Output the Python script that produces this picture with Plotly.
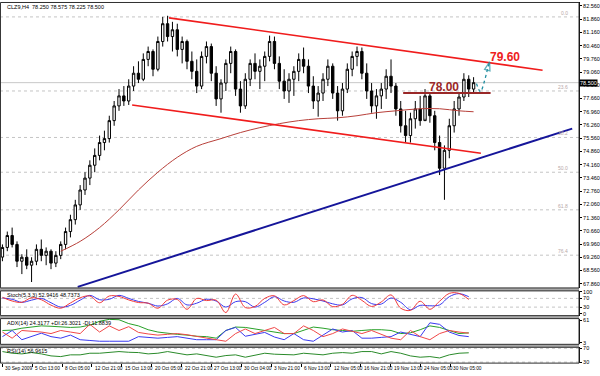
import plotly.graph_objects as go

# ---------------- data ----------------
title_text = "CLZ9,H4  78.250 78.575 78.225 78.500"
bar_index = list(range(98))
opens = [69.27, 69.78, 70.41, 69.94, 69.05, 69.26, 68.84, 69.05, 69.68, 69.36,
         69.58, 68.95, 69.36, 69.94, 70.62, 71.25, 72.03, 72.82, 73.45, 74.13,
         74.65, 75.33, 75.54, 76.49, 77.27, 77.80, 77.53, 78.32, 79.00, 78.68,
         79.73, 80.15, 79.21, 80.68, 81.62, 80.94, 81.30, 80.26, 80.68, 79.63,
         79.10, 78.32, 79.89, 80.41, 79.00, 77.64, 78.48, 79.52, 80.15, 78.16,
         77.27, 78.68, 79.52, 79.10, 79.37, 79.89, 80.68, 79.52, 78.58, 78.06,
         78.68, 79.10, 79.73, 79.37, 78.32, 77.53, 77.95, 78.68, 79.37, 77.95,
         77.01, 78.16, 79.21, 79.89, 80.15, 79.00, 78.06, 77.27, 77.80, 78.16,
         78.84, 78.32, 77.11, 76.22, 75.70, 76.59, 77.11, 76.49, 77.80, 76.75,
         75.33, 73.97, 74.92, 76.22, 77.11, 77.74, 78.68, 78.16]
highs = [69.94, 70.62, 70.83, 70.10, 69.42, 69.68, 69.26, 69.94, 70.20, 69.78,
         69.68, 69.58, 70.10, 70.83, 71.51, 72.30, 73.08, 73.76, 74.39, 75.02,
         75.70, 75.96, 76.75, 77.53, 78.16, 78.32, 78.68, 79.37, 79.63, 80.05,
         80.41, 80.26, 80.94, 81.98, 82.04, 81.72, 81.62, 80.94, 80.78, 80.15,
         79.73, 80.15, 80.68, 80.57, 79.37, 78.68, 79.73, 80.41, 80.26, 78.58,
         79.00, 79.73, 80.05, 79.73, 80.15, 80.99, 80.94, 79.89, 79.21, 79.00,
         79.37, 80.05, 80.36, 79.73, 78.84, 78.32, 79.00, 79.73, 79.52, 78.32,
         78.48, 79.52, 80.15, 80.41, 80.36, 79.52, 78.48, 78.16, 78.48, 79.21,
         79.73, 78.48, 77.53, 77.01, 76.91, 77.53, 77.80, 78.16, 77.95, 77.01,
         75.70, 75.18, 76.59, 77.53, 77.90, 79.00, 78.89, 78.79]
lows = [69.05, 69.58, 69.78, 68.74, 68.37, 68.63, 67.95, 68.84, 69.05, 68.84,
        68.63, 68.74, 69.16, 69.68, 70.31, 70.99, 71.77, 72.56, 73.08, 73.76,
        74.39, 74.92, 75.33, 76.22, 77.01, 77.27, 77.32, 78.06, 78.48, 78.58,
        79.37, 78.84, 79.10, 80.41, 80.68, 80.15, 79.89, 79.52, 79.21, 78.68,
        77.95, 78.16, 79.52, 78.58, 77.27, 76.91, 78.06, 79.00, 77.80, 76.91,
        77.11, 78.32, 78.68, 78.16, 78.58, 79.63, 79.21, 78.16, 77.64, 77.43,
        77.80, 78.58, 79.00, 77.95, 77.11, 76.70, 77.53, 78.32, 77.64, 76.49,
        76.75, 77.95, 78.84, 79.37, 78.68, 77.64, 76.91, 76.59, 77.11, 77.64,
        77.95, 76.75, 75.86, 75.33, 75.33, 76.07, 76.22, 76.59, 76.38, 74.92,
        73.61, 72.30, 74.50, 75.86, 76.75, 77.53, 77.74, 77.95]
closes = [69.78, 70.41, 69.94, 69.05, 69.26, 68.84, 69.05, 69.68, 69.36, 69.58,
          68.95, 69.36, 69.94, 70.62, 71.25, 72.03, 72.82, 73.45, 74.13, 74.65,
          75.33, 75.54, 76.49, 77.27, 77.80, 77.53, 78.32, 79.00, 78.68, 79.73,
          80.15, 79.21, 80.68, 81.62, 80.94, 81.30, 80.26, 80.68, 79.63, 79.10,
          78.32, 79.89, 80.41, 79.00, 77.64, 78.48, 79.52, 80.15, 78.16, 77.27,
          78.68, 79.52, 79.10, 79.37, 79.89, 80.68, 79.52, 78.58, 78.06, 78.68,
          79.10, 79.73, 79.37, 78.32, 77.53, 77.95, 78.68, 79.37, 77.95, 77.01,
          78.16, 79.21, 79.89, 80.15, 79.00, 78.06, 77.27, 77.80, 78.16, 78.84,
          78.32, 77.11, 76.22, 75.70, 76.59, 77.11, 76.49, 77.80, 76.75, 75.33,
          73.97, 74.92, 76.22, 77.11, 77.74, 78.68, 78.16, 78.50]
last_price = 78.50

ma_x = [12, 16, 20, 24, 28, 32, 36, 40, 45, 49, 53, 57, 61, 65, 69, 73, 77, 81, 86, 90, 94, 97]
ma_y = [69.58, 70.10, 70.83, 71.77, 72.82, 73.76, 74.55, 75.13, 75.54, 75.86, 76.12,
        76.33, 76.49, 76.59, 76.64, 76.75, 76.91, 77.01, 77.12, 77.12, 77.01, 76.96]

upper_x = [34.3, 111.2]
upper_y = [81.93, 79.16]
lower_x = [26.7, 98.5]
lower_y = [77.32, 74.76]
trend_x = [15.5, 117.3]
trend_y = [67.69, 76.07]
level78_x = [82.5, 100.5]
level78_y = [77.95, 77.95]
arrow_x = [97.6, 98.4, 99.2, 99.8, 100.3]
arrow_y = [78.45, 78.02, 78.55, 79.15, 79.60]

fib_prices = [81.98, 78.06, 75.60, 73.76, 71.77, 69.37]
fib_labels = ["0.0", "23.6", "38.2", "50.0", "61.8", "76.4"]

price_ticks = [82.56, 81.86, 81.16, 80.46, 79.76, 79.06, 78.36, 77.66, 76.96, 76.26,
               75.56, 74.86, 74.16, 73.46, 72.76, 72.06, 71.36, 70.66, 69.96, 69.26,
               68.56, 67.86]

date_pos = [0, 6.1, 12.3, 18.4, 24.6, 30.7, 36.9, 43.0, 49.2, 55.3, 61.5, 67.6,
            73.8, 79.9, 86.1, 92.2]
date_labels = ["30 Sep 2009", "5 Oct 13:00", "8 Oct 05:00", "12 Oct 21:00",
               "15 Oct 13:00", "20 Oct 05:00", "22 Oct 21:00", "27 Oct 13:00",
               "30 Oct 04:00", "3 Nov 21:00", "6 Nov 13:00", "12 Nov 05:00",
               "16 Nov 21:00", "19 Nov 13:00", "24 Nov 05:00", "30 Nov 05:00"]

ind_x = list(range(0, 98, 2))
stoch_k = [75, 58, 52, 73, 64, 39, 25, 49, 73, 81, 50, 81, 79, 63, 51, 48, 25, 62, 65, 20,
           70, 60, 62, 5, 90, 28, 33, 70, 82, 40, 60, 83, 55, 63, 32, 43, 84, 61, 33, 54,
           86, 25, 15, 57, 20, 57, 93, 93, 65]
stoch_d = [72, 66, 52, 62, 70, 50, 30, 38, 62, 84, 64, 66, 84, 70, 56, 48, 35, 45, 70, 40,
           48, 66, 58, 30, 55, 55, 30, 52, 78, 58, 52, 72, 68, 58, 45, 40, 68, 74, 46, 44,
           72, 52, 18, 38, 36, 40, 78, 92, 78]
adx_main = [35, 36, 41, 44, 47, 46, 44, 43, 44, 49, 59, 64, 63, 53, 47, 37, 31, 27, 25, 23,
            20, 19, 15, 35, 44, 43, 39, 35, 31, 27, 27, 35, 44, 41, 37, 35, 33, 35, 37, 37,
            35, 27, 29, 37, 47, 43, 35, 27, 29]
plus_di = [19, 35, 11, 19, 28, 19, 15, 23, 11, 9, 7, 7, 7, 7, 19, 17, 15, 17, 19, 15,
           11, 11, 11, 35, 43, 20, 25, 30, 18, 11, 27, 11, 7, 23, 39, 31, 35, 15, 15, 17,
           19, 31, 25, 19, 55, 51, 31, 22, 19]
minus_di = [31, 15, 35, 33, 31, 27, 35, 31, 27, 51, 31, 47, 35, 45, 30, 26, 23, 25, 27, 24,
            19, 15, 11, 7, 27, 39, 27, 35, 43, 27, 27, 47, 35, 19, 27, 39, 33, 27, 35, 25,
            15, 11, 35, 19, 11, 27, 35, 31, 28]
rsi = [60.5, 55.7, 53.8, 57.6, 53.8, 48.0, 46.0, 51.0, 51.0, 55.7, 55.7, 57.6, 60.5, 58.5,
       57.6, 53.8, 55.7, 60.5, 55.7, 51.0, 53.8, 48.0, 44.2, 49.0, 51.0, 44.2, 51.0, 55.7,
       52.9, 51.0, 51.0, 55.7, 53.8, 51.0, 55.7, 57.6, 55.7, 60.5, 60.5, 53.8, 60.5, 55.7,
       48.0, 44.2, 46.0, 42.0, 51.0, 55.7, 57.0]

stoch_title = "Stoch(5,3,3) 52.9416 48.7373"
adx_title = "ADX(14) 24.3177 +DI:26.3021 -DI:11.8839"
rsi_title = "RSI(14) 56.9615"

# ---------------- figure ----------------
H = 376.0
def dom(top_px, bot_px):
    return [1 - bot_px / H, 1 - top_px / H]

FONT = "Liberation Sans"
fig = go.Figure()

fig.add_trace(go.Candlestick(
    x=bar_index, open=opens, high=highs, low=lows, close=closes,
    increasing=dict(line=dict(color="black", width=1), fillcolor="white"),
    decreasing=dict(line=dict(color="black", width=1), fillcolor="black"),
    whiskerwidth=0, xaxis="x", yaxis="y", hoverinfo="skip"))

fig.add_trace(go.Scatter(x=ma_x, y=ma_y, mode="lines", line=dict(color="#b8403a", width=1, shape="spline"),
                         yaxis="y"))
fig.add_trace(go.Scatter(x=upper_x, y=upper_y, mode="lines", line=dict(color="#f01c1c", width=1.6), yaxis="y"))
fig.add_trace(go.Scatter(x=lower_x, y=lower_y, mode="lines", line=dict(color="#f01c1c", width=1.6), yaxis="y"))
fig.add_trace(go.Scatter(x=trend_x, y=trend_y, mode="lines", line=dict(color="#15159a", width=2), yaxis="y"))
fig.add_trace(go.Scatter(x=level78_x, y=level78_y, mode="lines", line=dict(color="#9a2828", width=2), yaxis="y"))
fig.add_trace(go.Scatter(x=arrow_x, y=arrow_y, mode="lines+markers",
                         line=dict(color="#1f8ea0", width=1.3, dash="dot", shape="spline"),
                         marker=dict(size=[0, 0, 0, 0, 9], symbol="arrow-open", angleref="previous",
                                     color="#1f8ea0", line=dict(color="#1f8ea0", width=1.3)),
                         yaxis="y"))

fig.add_trace(go.Scatter(x=ind_x, y=stoch_d, mode="lines", line=dict(color="#3a3af0", width=1, shape="spline"), yaxis="y2"))
fig.add_trace(go.Scatter(x=ind_x, y=stoch_k, mode="lines", line=dict(color="#f03a3a", width=1, shape="spline"), yaxis="y2"))
fig.add_trace(go.Scatter(x=ind_x, y=adx_main, mode="lines", line=dict(color="#28a028", width=1), yaxis="y3"))
fig.add_trace(go.Scatter(x=ind_x, y=plus_di, mode="lines", line=dict(color="#3a3af0", width=1), yaxis="y3"))
fig.add_trace(go.Scatter(x=ind_x, y=minus_di, mode="lines", line=dict(color="#f04848", width=1), yaxis="y3"))
fig.add_trace(go.Scatter(x=ind_x, y=rsi, mode="lines", line=dict(color="#2a8a2a", width=1), yaxis="y4"))

shapes = []
for p in fib_prices:
    shapes.append(dict(type="line", xref="paper", x0=0, x1=1, yref="y", y0=p, y1=p,
                       line=dict(color="#c4c4c4", width=1, dash="dot"), layer="below"))
shapes.append(dict(type="line", xref="paper", x0=0, x1=1, yref="y", y0=last_price, y1=last_price,
                   line=dict(color="#c8c8c8", width=1), layer="below"))
for lv in (70, 30):
    shapes.append(dict(type="line", xref="paper", x0=0, x1=1, yref="y2", y0=lv, y1=lv,
                       line=dict(color="#c4c4c4", width=1, dash="dot"), layer="below"))
    shapes.append(dict(type="line", xref="paper", x0=0, x1=1, yref="y4", y0=lv, y1=lv,
                       line=dict(color="#c4c4c4", width=1, dash="dot"), layer="below"))
for top, bot in ((289, 292), (317, 320), (346, 349)):
    d = dom(top, bot)
    shapes.append(dict(type="rect", xref="paper", x0=0, x1=1, yref="paper", y0=d[0], y1=d[1],
                       fillcolor="#a8a8a8", line=dict(width=0)))
for top, bot in ((0.5, 289), (292, 317), (320, 346), (349, 365)):
    d = dom(top, bot)
    shapes.append(dict(type="rect", xref="paper", x0=0.0008, x1=1, yref="paper", y0=d[0], y1=d[1],
                       line=dict(color="#303030", width=1), fillcolor="rgba(0,0,0,0)"))

ann = []
ann.append(dict(xref="paper", yref="paper", x=0.008, y=1 - 5 / H, text=title_text, showarrow=False,
                xanchor="left", yanchor="middle", font=dict(family=FONT, size=5.5, color="black")))
for t, ypx in ((stoch_title, 296), (adx_title, 324), (rsi_title, 353)):
    ann.append(dict(xref="paper", yref="paper", x=0.008, y=1 - ypx / H, text=t, showarrow=False,
                    xanchor="left", yanchor="middle", font=dict(family=FONT, size=5.5, color="black")))
for p, lab in zip(fib_prices, fib_labels):
    ann.append(dict(xref="paper", yref="y", x=0.985, y=p, text=lab, showarrow=False,
                    xanchor="right", yanchor="bottom", yshift=-1,
                    font=dict(family=FONT, size=5, color="#b8a8a8")))
ann.append(dict(xref="x", yref="y", x=91.0, y=78.26, text="<b>78.00</b>", showarrow=False,
                font=dict(family=FONT, size=12, color="#9a2828")))
ann.append(dict(xref="x", yref="y", x=103.5, y=79.86, text="<b>79.60</b>", showarrow=False,
                font=dict(family=FONT, size=12, color="#ee2020")))
ann.append(dict(xref="paper", yref="y", x=1.0, y=last_price, text="78.500", showarrow=False,
                xanchor="left", yanchor="middle", bgcolor="black", borderpad=0,
                font=dict(family=FONT, size=5.5, color="white")))
for xp, lab in zip(date_pos, date_labels):
    ann.append(dict(xref="x", yref="paper", x=xp, y=1 - 370.5 / H, text=lab, showarrow=False,
                    xanchor="left", yanchor="middle", xshift=1,
                    font=dict(family=FONT, size=4.8, color="black")))

yax_common = dict(side="right", showgrid=False, zeroline=False, showline=True, linecolor="black",
                  linewidth=1, ticks="outside", ticklen=2, tickcolor="black",
                  tickfont=dict(family=FONT, size=5.5, color="black"), fixedrange=True)

fig.update_layout(
    width=600, height=376, margin=dict(l=0, r=18, t=0, b=0),
    paper_bgcolor="white", plot_bgcolor="white", showlegend=False,
    xaxis=dict(range=[-0.5, 118.7], showgrid=False, zeroline=False, showticklabels=False,
               anchor="y4", tickvals=date_pos, ticks="outside", ticklen=3, tickcolor="black",
               rangeslider=dict(visible=False), showline=False, fixedrange=True),
    yaxis=dict(domain=dom(0, 289), range=[67.637, 82.769], tickvals=price_ticks,
               ticktext=["%.3f" % v for v in price_ticks], anchor="x", **yax_common),
    yaxis2=dict(domain=dom(292, 317), range=[-9.1, 104.5], tickvals=[0, 30, 70, 100],
                ticktext=["0", "30", "70", "100"], anchor="x", **yax_common),
    yaxis3=dict(domain=dom(320, 346), range=[-1, 66], tickvals=[3, 61],
                ticktext=["3", "61"], anchor="x", **yax_common),
    yaxis4=dict(domain=dom(349, 365), range=[27.1, 72.9], tickvals=[30, 70],
                ticktext=["30", "70"], anchor="x", **yax_common),
    shapes=shapes, annotations=ann,
)

fig.write_html("out.html", config={"displayModeBar": False},
               post_script="document.body.style.margin='0px';document.body.style.overflow='hidden';")
